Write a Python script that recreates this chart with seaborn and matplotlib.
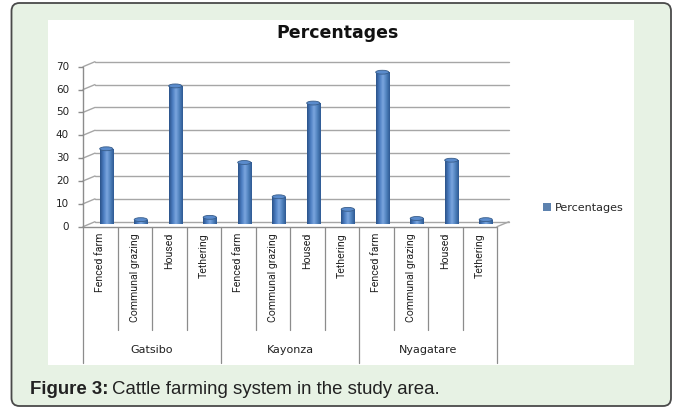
import numpy as np
import pandas as pd
import matplotlib
matplotlib.use('Agg')
import matplotlib.pyplot as plt
import matplotlib.patches as mpatches
from matplotlib import transforms
from matplotlib.colors import LinearSegmentedColormap
import seaborn as sns

import warnings
warnings.filterwarnings('ignore')

# data
districts = ['Gatsibo', 'Kayonza', 'Nyagatare']
systems = ['Fenced farm', 'Communal grazing', 'Housed', 'Tethering']
gatsibo = [33, 2, 60.5, 3]
kayonza = [27, 12, 53, 6.5]
nyagatare = [66.5, 2.5, 28, 2]
y_ticks = [0, 10, 20, 30, 40, 50, 60, 70]

rows = []
for d, vals in zip(districts, [gatsibo, kayonza, nyagatare]):
    for s, v in zip(systems, vals):
        rows.append({'district': d, 'system': s, 'key': d + '|' + s, 'pct': v})
df = pd.DataFrame(rows)

sns.set_style('white')
plt.rcParams['font.family'] = ['DejaVu Sans']

W, H = 675, 408
fig = plt.figure(figsize=(W / 100, H / 100), dpi=100)
fig.patch.set_facecolor('white')

def px(x, y):
    return x / W, 1 - y / H

# outer rounded frame + white chart area (in inches)
frame = mpatches.FancyBboxPatch((11.5 / 100, 2 / 100), 659.5 / 100, 403 / 100,
                                boxstyle='round,pad=0,rounding_size=0.08',
                                transform=fig.dpi_scale_trans, facecolor='#e7f2e4',
                                edgecolor='#4a4a4a', linewidth=1.3, zorder=-3)
fig.add_artist(frame)
chart_bg = mpatches.Rectangle((48 / 100, (H - 365) / 100), 586 / 100, 345 / 100,
                              transform=fig.dpi_scale_trans, facecolor='white',
                              edgecolor='none', zorder=-2)
fig.add_artist(chart_bg)

# plot axes sits at middle depth of the pseudo-3D box
l, b = px(89, 224.2)
ax = fig.add_axes([l, b, 414 / W, 160 / H])
ax.set_facecolor('none')

sns.barplot(data=df, x='key', y='pct', color='#4f81bd', width=0.38,
            edgecolor='#385d8a', linewidth=0.6, ax=ax, label='Percentages',
            zorder=3)

ax.set_xlim(-0.5, 11.5)
ax.set_ylim(0, 70)
ax.set_xticks([])
ax.set_yticks([])
ax.set_xlabel('')
ax.set_ylabel('')
for sp in ax.spines.values():
    sp.set_visible(False)

back = transforms.offset_copy(ax.transData, fig=fig, x=6, y=2.5, units='dots')
front = transforms.offset_copy(ax.transData, fig=fig, x=-6, y=-2.5, units='dots')
grid_c = '#a6a6a6'

# back wall gridlines and left wall diagonals
for v in y_ticks:
    ax.plot([-0.5, 11.5], [v, v], color=grid_c, lw=1, transform=back,
            clip_on=False, zorder=1)
    ax.annotate('', xy=(-0.5, v), xycoords=back, xytext=(-0.5, v), textcoords=front,
                arrowprops=dict(arrowstyle='-', color=grid_c, lw=1,
                                shrinkA=0, shrinkB=0), zorder=1)
    ax.text(-0.5, v, str(v), transform=transforms.offset_copy(front, fig=fig, x=-14, units='dots'),
            ha='right', va='center', fontsize=7.5, color='#222222')

# front y axis with ticks
ax.plot([-0.5, -0.5], [0, 70], color='#8c8c8c', lw=1, transform=front, clip_on=False, zorder=2)
ax.plot([-0.5] * len(y_ticks), y_ticks, linestyle='none', marker=0, markersize=3.6,
        markeredgecolor='#8c8c8c', markeredgewidth=1, transform=front, clip_on=False)

# floor: front edge and right diagonal
ax.plot([-0.5, 11.5], [0, 0], color='#8c8c8c', lw=1, transform=front, clip_on=False, zorder=2)
ax.annotate('', xy=(11.5, 0), xycoords=back, xytext=(11.5, 0), textcoords=front,
            arrowprops=dict(arrowstyle='-', color=grid_c, lw=1, shrinkA=0, shrinkB=0))

# cylinder shading on the bars
bars = list(ax.patches)
cmap = LinearSegmentedColormap.from_list('cyl', ['#2b5288', '#4a7cc0', '#7ba6df',
                                                 '#4f81bd', '#2e5a93'])
grad = np.linspace(0, 1, 64).reshape(1, -1)
for p in bars:
    x0, w, h = p.get_x(), p.get_width(), p.get_height()
    im = ax.imshow(grad, extent=[x0, x0 + w, 0, h], aspect='auto', cmap=cmap,
                   zorder=3.5, interpolation='bilinear')
    im.set_clip_path(p)
    ax.add_patch(mpatches.Ellipse((x0 + w / 2, h), w, 1.7, facecolor='#5a8bcc',
                                  edgecolor='#385d8a', lw=0.6, zorder=4))
ax.set_xlim(-0.5, 11.5)
ax.set_ylim(0, 70)

# category axis: separators and labels
sep_tr = transforms.blended_transform_factory(front, fig.transFigure)
for i in range(13):
    y_end = 363 if i % 4 == 0 else 330
    ax.plot([i - 0.5, i - 0.5], [1 - 226.7 / H, 1 - y_end / H], color='#8c8c8c', lw=0.9,
            transform=sep_tr, clip_on=False)
for i, s in enumerate(df['system']):
    ax.text(i, 1 - 233 / H, s, transform=sep_tr, rotation=90, ha='center', va='top',
            fontsize=7.6, family=['Liberation Sans Narrow', 'Roboto'], color='#222222')
for j, d in enumerate(districts):
    ax.text(j * 4 + 1.5, 1 - 350 / H, d, transform=sep_tr, ha='center', va='center',
            fontsize=8, color='#222222')

# legend
handles, labels = ax.get_legend_handles_labels()
leg = ax.legend(handles, labels, loc='center left', bbox_to_anchor=px(543, 208),
                bbox_transform=fig.transFigure, frameon=False, fontsize=8,
                handlelength=0.7, handleheight=0.7, handletextpad=0.4,
                borderpad=0, borderaxespad=0)
for hnd in leg.legend_handles:
    hnd.set_edgecolor('none')

# title
fig.text(*px(338, 32.5), 'Percentages', ha='center', va='center', fontsize=12.5,
         fontweight='bold', color='#111111')

# caption
renderer = fig.canvas.get_renderer()
t1 = fig.text(*px(30, 390), 'Figure 3:', ha='left', va='center', fontsize=13.4,
              fontweight='bold', family=['Liberation Sans'], color='#222222')
bb = t1.get_window_extent(renderer)
fig.text(bb.x1 / W + 4 / W, 1 - 390 / H, 'Cattle farming system in the study area.',
         ha='left', va='center', fontsize=13.4, family=['Liberation Sans'], color='#222222')

fig.savefig('out.png', dpi=100)
